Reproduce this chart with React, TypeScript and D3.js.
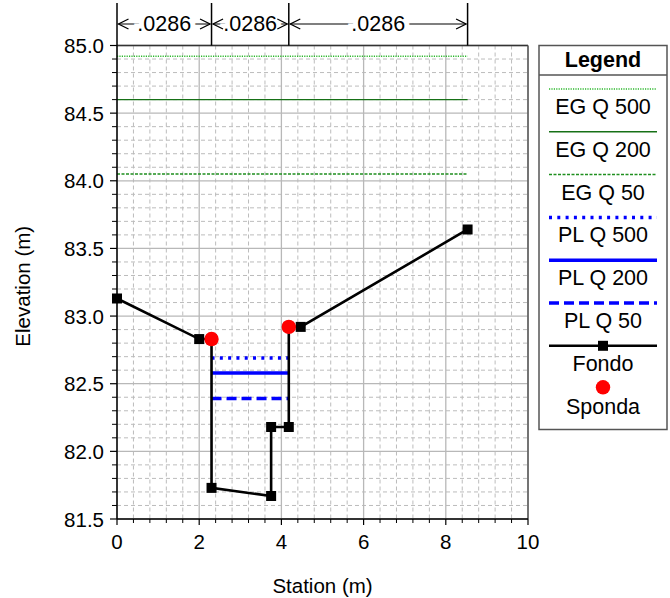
import React from "react";
import * as d3 from "d3";

const fondoStation = [0, 2.0, 2.3, 2.3, 3.75, 3.75, 4.18, 4.18, 4.47, 8.53];
const fondoElev = [83.13, 82.83, 82.83, 81.73, 81.67, 82.18, 82.18, 82.92, 82.92, 83.64];
const spondaStation = [2.3, 4.18];
const spondaElev = [82.83, 82.92];
const egNames = ["EG Q 500", "EG Q 200", "EG Q 50"];
const egLevels = [84.92, 84.6, 84.05];
const egRange = [0, 8.53];
const plNames = ["PL Q 500", "PL Q 200", "PL Q 50"];
const plLevels = [82.69, 82.58, 82.39];
const plRange = [2.3, 4.18];
const nBreaks = [0, 2.3, 4.18, 8.53];
const nValues = [".0286", ".0286", ".0286"];
const xTicks = [0, 2, 4, 6, 8, 10];
const yTicks = [81.5, 82.0, 82.5, 83.0, 83.5, 84.0, 84.5, 85.0];

const FONT = "Liberation Sans, Arial, sans-serif";

const egStyles = [
  { stroke: "#2db82d", width: 1.6, dash: "1.2 1.2" },
  { stroke: "#167016", width: 1.4, dash: "" },
  { stroke: "#1f8f1f", width: 1.5, dash: "3 1.5" },
];
const plStyles = [
  { stroke: "#0000ff", width: 3.5, dash: "3 5.3" },
  { stroke: "#0000ff", width: 3.5, dash: "" },
  { stroke: "#0000ff", width: 3.5, dash: "10 5" },
];

export default function App() {
  const W = 670, H = 598;
  const x = d3.scaleLinear().domain([0, 10]).range([117, 528]);
  const y = d3.scaleLinear().domain([81.5, 85]).range([519, 45.5]);
  const [x0, x1] = x.range();
  const [y0, y1] = y.range();

  const xMinor = d3.range(0, 10.0001, 0.4).filter((v) => Math.abs(v / 2 - Math.round(v / 2)) > 1e-6);
  const yMinor = d3.range(81.5, 85.0001, 0.1).filter((v) => Math.abs(v * 2 - Math.round(v * 2)) > 1e-6);

  const fondo = fondoStation.map((s, i) => [x(s), y(fondoElev[i])] as [number, number]);
  const line = d3.line();

  const arrowY = 24;
  const head = (px: number, dir: number) =>
    `M${px + dir * 10},${arrowY - 5} L${px},${arrowY} L${px + dir * 10},${arrowY + 5}`;

  const lgX0 = 539, lgX1 = 667, lgY0 = 45.5, lgY1 = 429.5;
  const lgCx = (lgX0 + lgX1) / 2;
  const itemY = (k: number) => 89 + 42.8 * k;
  const LF = 21.5;

  return (
    <svg width={W} height={H} style={{ display: "block", position: "absolute", left: 0, top: 0 }} fontFamily={FONT}>
      <rect width={W} height={H} fill="#fff" />
      {xMinor.map((v) => (
        <line key={"xm" + v} x1={x(v)} x2={x(v)} y1={y1} y2={y0} stroke="#bcbcbc" strokeWidth={1} strokeDasharray="4 3" />
      ))}
      {yMinor.map((v) => (
        <line key={"ym" + v} x1={x0} x2={x1} y1={y(v)} y2={y(v)} stroke="#bcbcbc" strokeWidth={1} strokeDasharray="4 3" />
      ))}
      {xTicks.map((v) => (
        <line key={"xg" + v} x1={x(v)} x2={x(v)} y1={y1} y2={y0} stroke="#b8b8b8" strokeWidth={1.3} />
      ))}
      {yTicks.map((v) => (
        <line key={"yg" + v} x1={x0} x2={x1} y1={y(v)} y2={y(v)} stroke="#b8b8b8" strokeWidth={1.3} />
      ))}

      {egLevels.map((v, i) => (
        <line key={"eg" + i} x1={x(egRange[0])} x2={x(egRange[1])} y1={y(v)} y2={y(v)}
          stroke={egStyles[i].stroke} strokeWidth={egStyles[i].width} strokeDasharray={egStyles[i].dash} />
      ))}
      {plLevels.map((v, i) => (
        <line key={"pl" + i} x1={x(plRange[0])} x2={x(plRange[1])} y1={y(v)} y2={y(v)}
          stroke={plStyles[i].stroke} strokeWidth={plStyles[i].width} strokeDasharray={plStyles[i].dash} />
      ))}

      <path d={line(fondo) || ""} fill="none" stroke="#000" strokeWidth={2.6} />
      {fondo.map(([px, py], i) => (
        <rect key={"fp" + i} x={px - 5} y={py - 5} width={10} height={10} fill="#000" />
      ))}
      {spondaStation.map((s, i) => (
        <circle key={"sp" + i} cx={x(s)} cy={y(spondaElev[i])} r={7.2} fill="#ff0000" />
      ))}

      <line x1={x0} x2={x1} y1={y1} y2={y1} stroke="#333" strokeWidth={1.5} />
      <line x1={x1} x2={x1} y1={y1} y2={y0} stroke="#555" strokeWidth={1.5} />
      <line x1={x0} x2={x1} y1={y0} y2={y0} stroke="#000" strokeWidth={1.5} />
      <line x1={x0} x2={x0} y1={y1} y2={y0} stroke="#000" strokeWidth={1.5} />

      {xTicks.map((v) => (
        <line key={"xt" + v} x1={x(v)} x2={x(v)} y1={y0} y2={y0 + 6} stroke="#000" strokeWidth={1.2} />
      ))}
      {xMinor.map((v) => (
        <line key={"xmt" + v} x1={x(v)} x2={x(v)} y1={y0} y2={y0 + 4} stroke="#000" strokeWidth={1} />
      ))}
      {yTicks.map((v) => (
        <line key={"yt" + v} x1={x0 - 7} x2={x0} y1={y(v)} y2={y(v)} stroke="#000" strokeWidth={1.2} />
      ))}
      {yMinor.map((v) => (
        <line key={"ymt" + v} x1={x0 - 5} x2={x0} y1={y(v)} y2={y(v)} stroke="#000" strokeWidth={1} />
      ))}
      {xTicks.map((v) => (
        <text key={"xl" + v} x={x(v)} y={541} fontSize={20.5} textAnchor="middle" dominantBaseline="central" fill="#000">
          {d3.format("d")(v)}
        </text>
      ))}
      {yTicks.map((v) => (
        <text key={"yl" + v} x={104} y={y(v)} fontSize={20.5} textAnchor="end" dominantBaseline="central" fill="#000">
          {d3.format(".1f")(v)}
        </text>
      ))}

      <text x={(x0 + x1) / 2} y={585} fontSize={20.5} textAnchor="middle" dominantBaseline="central">Station (m)</text>
      <text transform={`translate(22,${(y0 + y1) / 2 + 4}) rotate(-90)`} fontSize={20.5} textAnchor="middle" dominantBaseline="central">
        Elevation (m)
      </text>

      {nBreaks.map((b, i) => (
        <line key={"nb" + i} x1={x(b)} x2={x(b)} y1={3} y2={y1} stroke="#000" strokeWidth={1.5} />
      ))}
      {nValues.map((n, i) => {
        const a = x(nBreaks[i]) + 1.5, b = x(nBreaks[i + 1]) - 1.5;
        return (
          <g key={"nv" + i}>
            <line x1={a} x2={b} y1={arrowY} y2={arrowY} stroke="#000" strokeWidth={1.1} />
            <text x={(a + b) / 2} y={arrowY} fontSize={21.5} textAnchor="middle" dominantBaseline="central"
              stroke="#fff" strokeWidth={10} paintOrder="stroke" fill="#000">{n}</text>
            <path d={head(a, 1)} fill="none" stroke="#000" strokeWidth={1.3} />
            <path d={head(b, -1)} fill="none" stroke="#000" strokeWidth={1.3} />
          </g>
        );
      })}

      <rect x={lgX0} y={lgY0} width={lgX1 - lgX0} height={lgY1 - lgY0} fill="#fff" stroke="#555" strokeWidth={1.5} />
      <line x1={lgX0} x2={lgX1} y1={75} y2={75} stroke="#555" strokeWidth={1.5} />
      <text x={lgCx} y={60} fontSize={LF} fontWeight="bold" textAnchor="middle" dominantBaseline="central">Legend</text>
      {egNames.map((nm, i) => (
        <g key={"lge" + i}>
          <line x1={549} x2={657} y1={itemY(i)} y2={itemY(i)} stroke={egStyles[i].stroke} strokeWidth={egStyles[i].width} strokeDasharray={egStyles[i].dash} />
          <text x={lgCx} y={itemY(i) + 18} fontSize={LF} textAnchor="middle" dominantBaseline="central">{nm}</text>
        </g>
      ))}
      {plNames.map((nm, i) => (
        <g key={"lgp" + i}>
          <line x1={549} x2={657} y1={itemY(i + 3)} y2={itemY(i + 3)} stroke={plStyles[i].stroke} strokeWidth={plStyles[i].width} strokeDasharray={plStyles[i].dash} />
          <text x={lgCx} y={itemY(i + 3) + 18} fontSize={LF} textAnchor="middle" dominantBaseline="central">{nm}</text>
        </g>
      ))}
      <line x1={549} x2={657} y1={itemY(6)} y2={itemY(6)} stroke="#000" strokeWidth={2.6} />
      <rect x={lgCx - 5} y={itemY(6) - 5} width={10} height={10} fill="#000" />
      <text x={lgCx} y={itemY(6) + 18} fontSize={LF} textAnchor="middle" dominantBaseline="central">Fondo</text>
      <circle cx={lgCx} cy={itemY(6) + 41.5} r={7.2} fill="#ff0000" />
      <text x={lgCx} y={itemY(6) + 61} fontSize={LF} textAnchor="middle" dominantBaseline="central">Sponda</text>
    </svg>
  );
}
